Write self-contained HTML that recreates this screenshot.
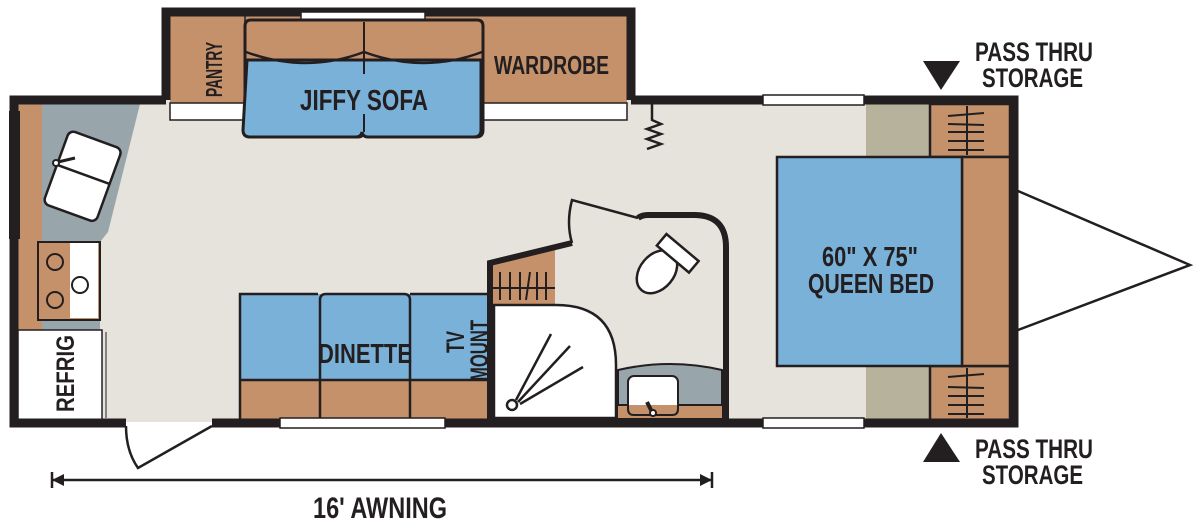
<!DOCTYPE html>
<html><head><meta charset="utf-8"><style>
html,body{margin:0;padding:0;background:#fff;width:1200px;height:528px;overflow:hidden}
svg{display:block}
text{font-family:"Liberation Sans Narrow","Liberation Sans",sans-serif;font-weight:bold;fill:#231f20}
</style></head><body>
<svg width="1200" height="528" viewBox="0 0 1200 528" xmlns="http://www.w3.org/2000/svg">
<g stroke="#231f20" stroke-width="3" fill="none">
<rect x="14" y="100" width="1000" height="322" fill="#e5e3dc" stroke="none"/>
<polyline points="1018,191 1190,265 1018,330" stroke-width="2.5"/>
<rect x="170" y="16" width="457" height="88" fill="#c4916a" stroke="none"/>
<rect x="170" y="103" width="75" height="17" fill="#fff" stroke-width="1.5"/>
<rect x="482" y="103" width="145" height="17" fill="#fff" stroke-width="1.5"/>
<path d="M166,100 V12 H631 V100" stroke-width="9" fill="none"/>
<rect x="301" y="12" width="124" height="8" fill="#fff" stroke-width="1.5"/>
<line x1="245" y1="16" x2="245" y2="104" stroke-width="1.5"/>
<path d="M245,26 q0,-6 6,-6 h226 q6,0 6,6 v104 q0,7 -7,7 h-106 q-5,0 -6,-5 q-1,5 -6,5 h-106 q-7,0 -7,-7z" fill="#c4916a"/>
<path d="M247,60 h234 v70 q0,7 -7,7 h-106 q-5,0 -6,-5 q-1,5 -6,5 h-106 q-7,0 -7,-7z" fill="#7ab1d8"/>
<path d="M246,52 q60,22 118,0 q60,22 118,0" stroke-width="2.5"/>
<line x1="364" y1="22" x2="364" y2="74" stroke-width="2"/>
<line x1="364" y1="114" x2="364" y2="132" stroke-width="2"/>
<rect x="18" y="104" width="24" height="226" fill="#c4916a" stroke="none"/>
<polygon points="42,104 140,104 108,232 100,242 100,330 42,330" fill="#98a6ab" stroke="none"/>
<g transform="rotate(20 82 175)"><rect x="55" y="137" width="56" height="78" rx="6" fill="#fff" stroke-width="2.5"/><line x1="55" y1="174" x2="111" y2="174" stroke-width="2.5"/></g>
<circle cx="56" cy="163" r="3" fill="#fff" stroke-width="2"/><line x1="58" y1="162" x2="75" y2="158" stroke-width="3"/>
<rect x="38" y="242" width="62" height="78" fill="#c4916a" stroke-width="2"/>
<rect x="70" y="243" width="28" height="75" fill="#fff" stroke="none"/>
<circle cx="55" cy="262" r="8" stroke-width="2"/><circle cx="55" cy="300" r="8" stroke-width="2"/><circle cx="80" cy="285" r="8" fill="#fff" stroke-width="2"/>
<rect x="18" y="330" width="84" height="90" fill="#fff" stroke-width="1.5"/>
<line x1="106" y1="332" x2="106" y2="418" stroke-width="1"/>
<rect x="10" y="112" width="9" height="126" fill="#fff" stroke-width="2"/>
<rect x="240" y="294" width="250" height="126" fill="#7ab1d8" stroke="none"/>
<rect x="240" y="380" width="250" height="40" fill="#c4916a" stroke="none"/>
<path d="M240,420 V294 H318 M410,294 H490" stroke-width="2.5"/>
<path d="M320,420 V300 q0,-6 6,-6 h78 q6,0 6,6 V420" stroke-width="2.5"/>
<line x1="240" y1="380" x2="490" y2="380" stroke-width="2.5"/>
<polygon points="490,265 555,246 555,305 490,305" fill="#c4916a" stroke="none"/>
<g stroke-width="2"><line x1="500" y1="272" x2="500" y2="300"/><line x1="510" y1="272" x2="510" y2="300"/><line x1="520" y1="272" x2="520" y2="300"/><line x1="530" y1="272" x2="526" y2="300"/><line x1="537" y1="272" x2="537" y2="300"/><line x1="546" y1="272" x2="546" y2="300"/><line x1="490" y1="288" x2="555" y2="288"/></g>
<path d="M494,418 V305 H556 q60,0 60,60 V418z" fill="#fff" stroke-width="2.5"/>
<g stroke-width="2.5"><line x1="516" y1="400" x2="551" y2="334"/><line x1="518" y1="402" x2="570" y2="346"/><line x1="520" y1="404" x2="583" y2="367"/></g>
<circle cx="512" cy="405" r="5" fill="#fff" stroke-width="2.5"/>
<path d="M618,418 V370 q52,-12 104,0 V418z" fill="#98a6ab" stroke-width="2"/>
<rect x="618" y="405" width="104" height="13" fill="#c4916a" stroke="none"/>
<line x1="618" y1="405" x2="722" y2="405" stroke-width="2"/>
<rect x="628" y="376" width="50" height="38" rx="6" fill="#fff" stroke-width="2"/>
<rect x="628" y="405" width="50" height="10" fill="#c4916a" stroke="none"/>
<path d="M628,405 v4 q0,6 6,6 h38 q6,0 6,-6 v-4" stroke-width="2"/>
<line x1="647" y1="402" x2="652" y2="412" stroke-width="4"/><circle cx="653" cy="413" r="3" fill="#fff" stroke-width="2"/>
<path d="M490,420 V263 L572,243" stroke-width="6"/>
<path d="M572,243 q-6,-20 0,-43 L638,218" stroke-width="2.5"/>
<path d="M638,218 q4,-3 10,-3 h46 q32,0 32,32 V420" stroke-width="6"/>
<g transform="rotate(40 668 268)"><ellipse cx="662" cy="278" rx="17" ry="24" fill="#fff" stroke-width="2.5"/><rect x="645" y="243" width="42" height="15" fill="#fff" stroke-width="2.5"/></g>
<path d="M652,104 v16 l9,4 -14,5 14,5 -14,5 14,5 -14,5" stroke-width="2.5"/>
<rect x="866" y="104" width="64" height="53" fill="#b7b29b" stroke="none"/>
<rect x="866" y="366" width="64" height="54" fill="#b7b29b" stroke="none"/>
<rect x="930" y="104" width="80" height="53" fill="#c4916a" stroke-width="2.5"/>
<rect x="930" y="366" width="80" height="54" fill="#c4916a" stroke-width="2.5"/>
<g stroke-width="2">
<path d="M948,116 l36,-3 M948,124 l36,1 M948,132 l36,0 M948,141 l36,0 M948,150 l36,0"/>
<path d="M948,377 l36,-3 M948,387 l36,1 M948,396 l36,0 M948,405 l36,0 M948,414 l36,0"/>
<line x1="967" y1="106" x2="967" y2="155"/><line x1="967" y1="368" x2="967" y2="418"/></g>
<rect x="962" y="157" width="48" height="209" fill="#c4916a" stroke-width="2.5"/>
<rect x="777" y="157" width="185" height="209" fill="#7ab1d8" stroke-width="2.5"/>
<path d="M166,100 H14 V423 H126 M212,423 H1014 V100 H631" stroke-width="9"/>
<rect x="763" y="95" width="101" height="10" fill="#fff" stroke-width="1.5"/>
<rect x="763" y="418" width="101" height="10" fill="#fff" stroke-width="1.5"/>
<rect x="280" y="418" width="165" height="10" fill="#fff" stroke-width="1.5"/>
<path d="M126,426 q0,25 12,42 L212,426" stroke-width="2.5"/>
<line x1="52" y1="480" x2="712" y2="480" stroke-width="2.5"/>
<path d="M52,472 v16 M712,472 v16" stroke-width="2.5"/>
<polygon points="52,480 64,474 64,486" fill="#231f20" stroke="none"/>
<polygon points="712,480 700,474 700,486" fill="#231f20" stroke="none"/>
</g>
<polygon points="923,61 960,61 941,90" fill="#231f20"/>
<polygon points="941,433 960,462 923,462" fill="#231f20"/>
<text x="975" y="61" font-size="27" textLength="118" lengthAdjust="spacingAndGlyphs">PASS THRU</text>
<text x="982" y="87" font-size="27" textLength="101" lengthAdjust="spacingAndGlyphs">STORAGE</text>
<text x="975" y="458" font-size="27" textLength="118" lengthAdjust="spacingAndGlyphs">PASS THRU</text>
<text x="982" y="484" font-size="27" textLength="101" lengthAdjust="spacingAndGlyphs">STORAGE</text>
<text x="494" y="74" font-size="26" textLength="115" lengthAdjust="spacingAndGlyphs">WARDROBE</text>
<text x="300" y="110" font-size="29" textLength="128" lengthAdjust="spacingAndGlyphs">JIFFY SOFA</text>
<text transform="translate(222,97) rotate(-90)" font-size="23" textLength="55" lengthAdjust="spacingAndGlyphs">PANTRY</text>
<text transform="translate(74,412) rotate(-90)" font-size="25" textLength="77" lengthAdjust="spacingAndGlyphs">REFRIG</text>
<text x="318" y="363" font-size="28" textLength="94" lengthAdjust="spacingAndGlyphs">DINETTE</text>
<text transform="translate(464,353) rotate(-90)" font-size="25" textLength="22" lengthAdjust="spacingAndGlyphs">TV</text>
<text transform="translate(488,381) rotate(-90)" font-size="25" textLength="61" lengthAdjust="spacingAndGlyphs">MOUNT</text>
<text x="822" y="266" font-size="28" textLength="96" lengthAdjust="spacingAndGlyphs">60" X 75"</text>
<text x="808" y="293" font-size="28" textLength="126" lengthAdjust="spacingAndGlyphs">QUEEN BED</text>
<text x="313" y="518" font-size="30" textLength="134" lengthAdjust="spacingAndGlyphs">16' AWNING</text>
</svg>
</body></html>
